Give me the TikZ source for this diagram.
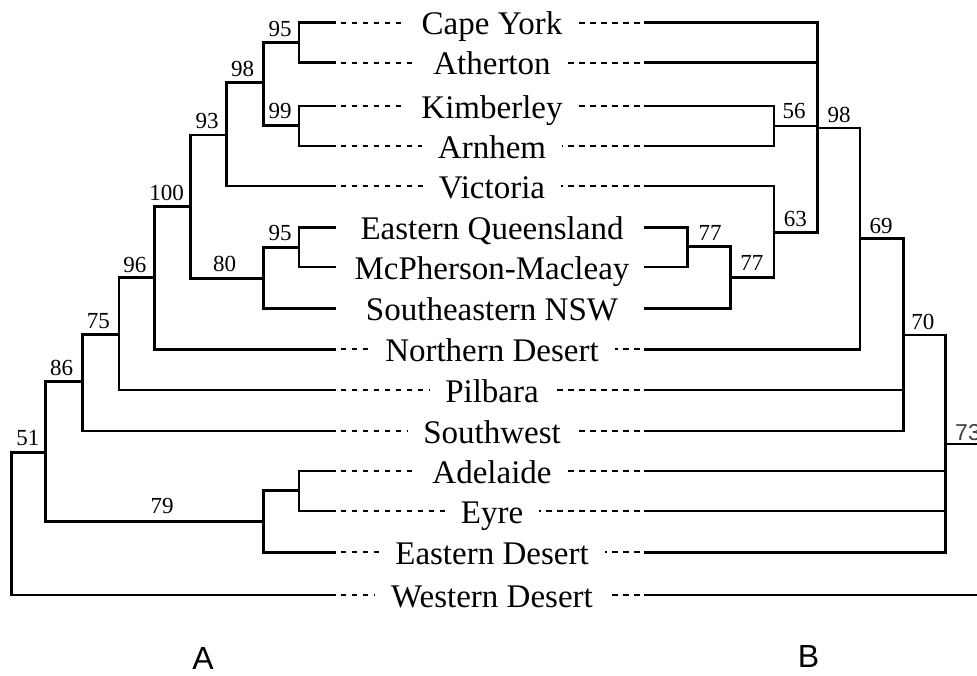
\documentclass[tikz,border=0pt]{standalone}
\usepackage{fontspec}
\setmainfont{Liberation Serif}
\newfontfamily\sansf{Liberation Sans}
\begin{document}
\begin{tikzpicture}[x=1pt,y=-1pt,
  br/.style={line width=2.7pt, line cap=rect, line join=miter},
  dsh/.style={line width=2pt, dash pattern=on 5.5pt off 5.5pt, dash phase=5.5pt},
  lbl/.style={anchor=base, inner xsep=16pt, inner ysep=0pt, outer sep=0pt, font=\fontsize{33}{33}\selectfont},
  num/.style={anchor=base, inner sep=0pt, font=\fontsize{23}{23}\selectfont},
  ab/.style={anchor=base, inner sep=0pt, font=\sansf\fontsize{32}{32}\selectfont}]
\useasboundingbox (0,0) rectangle (977,675);

% leaves, labels, dashes
\foreach \i/\y/\t/\d in {1/22.7/Cape York/1, 2/62.7/Atherton/1, 3/106/Kimberley/1, 4/146/Arnhem/1,
  5/186/Victoria/1, 6/227.5/Eastern Queensland/0, 7/267/McPherson-Macleay/0, 8/308.5/Southeastern NSW/0,
  9/349.3/Northern Desert/1, 10/390/Pilbara/1, 11/431/Southwest/1, 12/471/Adelaide/1, 13/511/Eyre/1,
  14/552.3/Eastern Desert/1, 15/595/Western Desert/1}{
  \coordinate (L\i) at (335,\y);
  \coordinate (R\i) at (645,\y);
  \node[lbl] (N\i) at (492,\y+12) {\t};
  \ifnum\d=1
    \draw[dsh] (L\i) -- (N\i.west |- L\i);
    \draw[dsh] (R\i) -- (N\i.east |- R\i);
  \fi
}

% left tree
\draw[br] (L1) -| (299,62.7) -- (L2);
\draw[br] (L3) -| (299,146) -- (L4);
\draw[br] (299,42.7) -| (263.3,125.3) -- (299,125.3);
\draw[br] (263.3,82.7) -| (226.7,186) -- (L5);
\draw[br] (226.7,135) -| (190.7,278.3) -- (263.3,278.3);
\draw[br] (L6) -| (299,267) -- (L7);
\draw[br] (299,247.3) -| (263.3,308.5) -- (L8);
\draw[br] (190.7,206.7) -| (154.3,349.3) -- (L9);
\draw[br] (154.3,277.7) -| (119,390) -- (L10);
\draw[br] (119,334.3) -| (82.3,431) -- (L11);
\draw[br] (82.3,381.7) -| (45.7,521.7) -- (263.3,521.7);
\draw[br] (L12) -| (299,511) -- (L13);
\draw[br] (299,490.7) -| (263.3,552.3) -- (L14);
\draw[br] (45.7,452.3) -| (11.7,595) -- (L15);

% right tree
\draw[br] (R1) -| (817.7,232.7) -- (774,232.7);
\draw[br] (R2) -- (817.7,62.7);
\draw[br] (R3) -| (774,146) -- (R4);
\draw[br] (774,126) -- (817.7,126);
\draw[br] (817.7,128) -| (860,349.3) -- (R9);
\draw[br] (R5) -| (774,277.3) -- (730.7,277.3);
\draw[br] (R6) -| (687.3,267) -- (R7);
\draw[br] (687.3,246.7) -| (730.7,308.5) -- (R8);
\draw[br] (860,238.3) -| (903.3,431) -- (R11);
\draw[br] (R10) -- (903.3,390);
\draw[br] (903.3,335) -| (945.7,552.3) -- (R14);
\draw[br] (R12) -- (945.7,471);
\draw[br] (R13) -- (945.7,511);
\draw[br] (945.7,444) -- (982,444);
\draw[br] (R15) -- (982,595);

% support values, left
\node[num] (a95) at (280,36.5) {95};
\node[num] (a98) at (242.5,76.7) {98};
\node[num] (a99) at (280,118.3) {99};
\node[num] (a93) at (207,128.3) {93};
\node[num] (a100) at (166.7,200) {100};
\node[num] (b95) at (280,240.7) {95};
\node[num] (a80) at (224.7,271.7) {80};
\node[num] (a96) at (134.8,272.7) {96};
\node[num] (a75) at (98.3,328.3) {75};
\node[num] (a86) at (61.7,375) {86};
\node[num] (a51) at (27.8,445) {51};
\node[num] (a79) at (162,513.3) {79};

% support values, right
\node[num] (r56) at (794.2,118.3) {56};
\node[num] (r98) at (839,122.3) {98};
\node[num] (r63) at (795.3,226.7) {63};
\node[num] (r77a) at (710.2,240.7) {77};
\node[num] (r77b) at (751.8,270) {77};
\node[num] (r69) at (881,233.3) {69};
\node[num] (r70) at (922.8,329.3) {70};
\node[num, anchor=base west, font=\sansf\fontsize{23}{23}\selectfont, text=black!75] (r73) at (955,440.7) {73};

% panel letters
\node[ab] (A) at (203,669.5) {A};
\node[ab] (B) at (808.5,667) {B};
\end{tikzpicture}
\end{document}
